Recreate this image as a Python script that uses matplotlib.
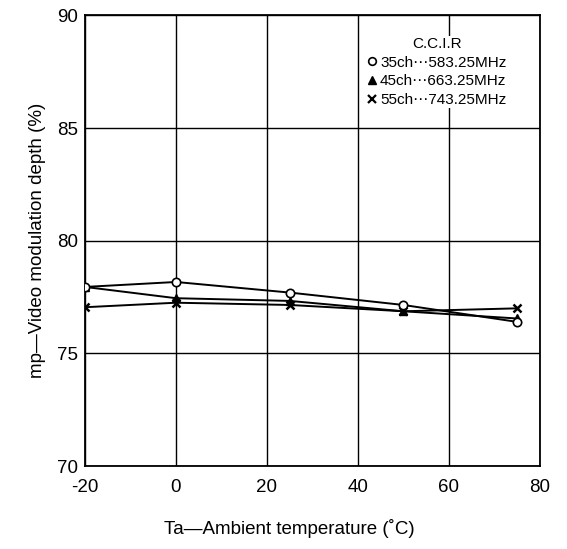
import matplotlib.pyplot as plt
from matplotlib.lines import Line2D

plt.rcParams['font.family'] = ['Liberation Sans', 'DejaVu Sans']
plt.rcParams['axes.unicode_minus'] = False

temps = [-20, 0, 25, 50, 75]
ch35 = [77.95, 78.17, 77.7, 77.15, 76.4]
ch45 = [77.95, 77.45, 77.33, 76.87, 76.55]
ch55 = [77.05, 77.25, 77.15, 76.87, 77.0]
labels = ['35ch\u22ef583.25MHz', '45ch\u22ef663.25MHz', '55ch\u22ef743.25MHz']

fig = plt.figure(figsize=(5.67, 5.49), dpi=100)
ax = fig.add_axes([0.15, 0.151, 0.802, 0.821])

ax.plot(temps, ch35, color='black', lw=1.4, marker='o', ms=6, mfc='white', mec='black', mew=1.2, zorder=5)
ax.plot(temps, ch45, color='black', lw=1.4, marker='^', ms=6, mfc='black', mec='black', zorder=4)
ax.plot(temps, ch55, color='black', lw=1.4, marker='x', ms=6, mew=1.8, zorder=4)

ax.set_xlim(-20, 80)
ax.set_ylim(70, 90)
ax.set_xticks([-20, 0, 20, 40, 60, 80])
ax.set_yticks([70, 75, 80, 85, 90])
ax.grid(True, color='black', lw=1.0)
ax.tick_params(length=0, labelsize=13.5)
ax.tick_params(axis='x', pad=9)
ax.tick_params(axis='y', pad=5)
for s in ax.spines.values():
    s.set_linewidth(1.3)

ax.set_xlabel('Ta\u2014Ambient temperature (\u02daC)', fontsize=13.5, labelpad=17, x=0.45)
ax.set_ylabel('mp\u2014Video modulation depth (%)', fontsize=13.5, labelpad=8)

handles = [
    Line2D([], [], ls='none', marker='o', ms=5.5, mfc='white', mec='black', mew=1.2),
    Line2D([], [], ls='none', marker='^', ms=5.5, mfc='black', mec='black'),
    Line2D([], [], ls='none', marker='x', ms=5.5, mec='black', mew=1.6),
]
leg = ax.legend(handles, labels, title='C.C.I.R', loc='upper right', bbox_to_anchor=(0.93, 0.955),
                frameon=True, fancybox=False, edgecolor='none', facecolor='white', framealpha=1,
                fontsize=11, title_fontsize=11, handlelength=0.5, handletextpad=0.25,
                labelspacing=0.3, borderpad=0.1, borderaxespad=0)

fig.savefig('out.png', dpi=100)
